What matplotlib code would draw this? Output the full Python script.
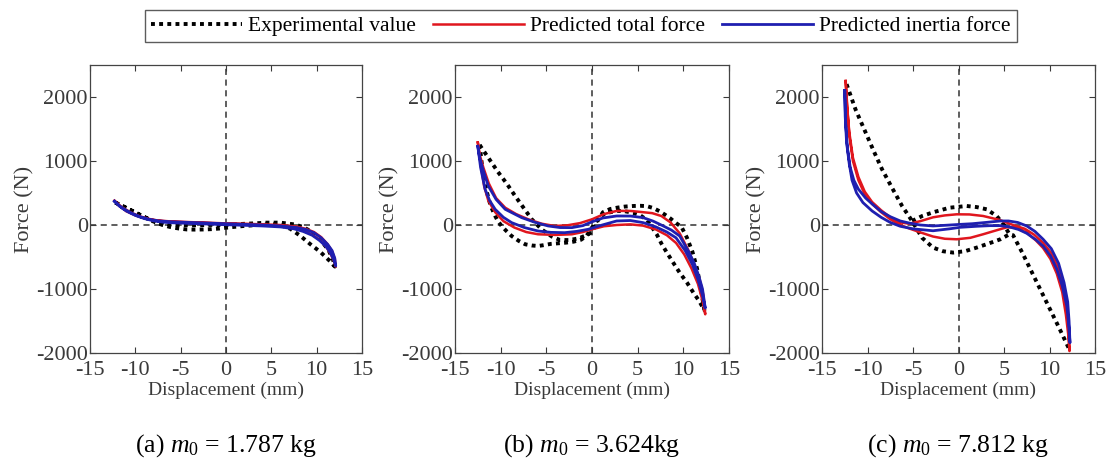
import matplotlib
matplotlib.use("Agg")
import matplotlib.pyplot as plt
import numpy as np

plt.rcParams['font.family'] = ['Liberation Serif', 'DejaVu Serif']
plt.rcParams['mathtext.fontset'] = 'custom'
plt.rcParams['mathtext.rm'] = 'Liberation Serif'
plt.rcParams['mathtext.it'] = 'Liberation Serif:italic'

# ---------------- data (displacement mm, force N) ----------------
xticks = [-15, -10, -5, 0, 5, 10, 15]
yticks = [-2000, -1000, 0, 1000, 2000]
captions = [r"(a) $m_0$ = 1.787 kg", r"(b) $m_0$ = 3.624kg", r"(c) $m_0$ = 7.812 kg"]
legend_labels = ["Experimental value", "Predicted total force", "Predicted inertia force"]

# panel (a)
a_exp_x = [-12.2, -11.3, -10.2, -9.1, -8.0, -7.0, -6.2, -5.2, -4.3, -3.4, -2.5, -1.6, -0.7, 0.5, 2.0, 3.5, 5.0, 6.0,
           7.1, 8.2, 9.3, 10.4, 11.5, 12.0,
           11.8, 11.3, 10.4, 9.5, 8.5, 7.5, 6.0, 4.5, 3.0, 1.5, 0.0, -2.0, -4.0, -6.0, -7.5, -8.5, -9.5, -10.5,
           -11.5, -12.2]
a_exp_f = [350, 290, 210, 130, 55, 0, -30, -55, -70, -72, -70, -65, -55, -35, -15, 0, 10, 0,
           -60, -170, -300, -420, -570, -650,
           -540, -390, -230, -110, -30, 10, 37, 37, 25, 15, 5, 0, -5, 10, 40, 90, 160, 230,
           300, 350]
a_tot_x = [-12.3, -11.8, -11.0, -10.0, -9.0, -8.0, -7.0, -6.0, -4.0, -2.0, 0.0, 2.0, 4.0, 6.0, 7.5, 8.5, 9.5,
           10.3, 11.0, 11.5, 11.9, 12.1,
           12.0, 11.7, 11.2, 10.5, 9.7, 8.8, 7.8, 6.0, 4.0, 2.0, 0.0, -2.0, -4.0, -6.0, -7.5, -8.5, -9.5,
           -10.5, -11.5, -12.3]
a_tot_f = [380, 300, 215, 150, 105, 75, 60, 50, 40, 30, 20, 10, 0, -15, -45, -90, -150,
           -230, -330, -440, -560, -650,
           -530, -410, -300, -190, -110, -60, -25, 0, 10, 20, 25, 35, 45, 55, 70, 95, 135,
           195, 280, 380]
a_ine_x = [-12.3, -11.8, -11.0, -10.0, -9.0, -8.0, -7.0, -6.0, -4.0, -2.0, 0.0, 2.0, 4.0, 6.0, 7.5, 8.5, 9.5,
           10.3, 11.0, 11.5, 11.9, 12.1,
           12.0, 11.7, 11.2, 10.5, 9.7, 8.8, 7.8, 6.0, 4.0, 2.0, 0.0, -2.0, -4.0, -6.0, -7.5, -8.5, -9.5,
           -10.5, -11.5, -12.3]
a_ine_f = [370, 300, 220, 150, 100, 65, 45, 35, 25, 15, 5, -5, -15, -30, -60, -100, -160,
           -240, -330, -430, -550, -640,
           -520, -400, -300, -200, -120, -70, -40, -15, 0, 10, 20, 30, 40, 50, 65, 90, 130,
           190, 270, 370]

# panel (b)
b_exp_x = [-12.3, -11.3, -10.3, -9.3, -8.4, -7.5, -6.6, -5.5, -4.4, -3.5, -2.5, -1.5, -0.6, 0.0, 0.6, 1.2, 2.0,
           2.8, 3.6, 4.5, 5.3, 6.0, 6.7, 7.4, 8.0, 8.6, 9.2, 9.8, 10.4, 11.0, 11.5, 11.9, 12.3,
           11.7, 11.1, 10.4, 9.6, 8.9, 8.2, 7.6, 7.1, 6.5, 6.0, 5.3, 4.5, 3.6, 2.8, 2.0, 1.2, 0.6, 0.0, -0.6,
           -1.2, -2.0, -2.8, -3.6, -4.5, -5.3, -5.9, -6.6, -7.3, -8.0, -8.8, -9.4, -9.9, -10.3, -10.6, -11.1,
           -11.6, -12.0, -12.3]
b_exp_f = [1250, 1040, 830, 640, 450, 270, 90, -70, -180, -235, -235, -210, -160, -110, 60, 200, 250,
           272, 288, 297, 300, 295, 265, 215, 160, 100, 30, -30, -200, -420, -680, -980, -1330,
           -1180, -1057, -900, -745, -590, -432, -290, -150, -20, 80, 150, 190, 215, 220, 200, 160, 80, -40, -170,
           -230, -260, -275, -285, -295, -315, -328, -320, -302, -250, -172, -90, -15, 60, 141, 300,
           560, 880, 1250]
b_tot_x = [-12.5, -12.2, -11.8, -11.35, -10.6, -9.7, -8.5, -7.2, -5.9, -4.0, -2.2, -1.0, 0.0, 1.3, 2.7, 4.2,
           5.6, 7.0, 8.2, 9.2, 10.1, 10.9, 11.6, 12.1, 12.4,
           12.2, 11.8, 11.2, 10.5, 9.6, 8.6, 7.6, 6.6, 5.6, 4.2, 2.7, 1.3, 0.0, -1.3, -2.7, -4.1, -5.5, -7.0,
           -8.3, -9.5, -10.5, -11.3, -11.9, -12.3, -12.5]
b_tot_f = [1290, 950, 600, 380, 200, 60, -40, -110, -145, -155, -145, -110, -67, -20, 0, 10,
           -10, -70, -160, -280, -460, -680, -920, -1180, -1395,
           -1100, -860, -620, -380, -130, 40, 140, 185, 200, 220, 220, 170, 89, 30, -5, -15, 20, 90,
           170, 270, 420, 650, 900, 1100, 1290]
b_ine_x = [-12.5, -12.2, -11.7, -11.2, -10.6, -9.7, -8.8, -7.4, -5.9, -4.5, -3.0, -1.7, -0.4, 1.0, 2.7, 4.2,
           5.6, 7.0, 8.2, 9.2, 10.2, 11.0, 11.6, 12.1, 12.4,
           12.1, 11.7, 11.2, 10.6, 9.6, 8.7, 7.8, 6.7, 5.6, 4.2, 2.7, 1.2, 0.0, -1.0, -2.2, -3.5, -4.8, -6.2,
           -7.7, -8.6, -9.5, -10.5, -11.35, -11.9, -12.3, -12.5]
b_ine_f = [1230, 900, 557, 380, 245, 120, 37, -40, -94, -115, -120, -100, -67, -5, 63, 70,
           37, -30, -110, -200, -400, -620, -850, -1100, -1300,
           -1000, -800, -600, -420, -172, -80, -15, 60, 115, 140, 141, 110, 50, -10, -41, -40, -15, 40,
           115, 180, 245, 400, 609, 850, 1050, 1230]

# panel (c)
c_exp_x = [-12.3, -11.3, -10.2, -9.3, -8.4, -7.3, -6.2, -5.1, -4.0, -2.8, -1.7, -0.6, 0.7, 2.0, 3.3, 4.6,
           5.6, 6.0, 7.0, 8.0, 9.0, 10.0, 11.0, 12.1]
c_exp_f = [2200, 1800, 1443, 1150, 870, 580, 297, 63, -200, -353, -410, -431, -410, -353, -290, -223,
           -145, -160, -430, -720, -1010, -1300, -1590, -1920]
c_exp2_x = [-5.1, -4.0, -2.8, -1.0, 0.9, 2.0, 3.1, 4.2, 5.0, 5.6]
c_exp2_f = [63, 140, 198, 270, 297, 280, 245, 140, 0, -145]
c_tot_x = [-12.4, -12.2, -12.0, -11.6, -11.0, -10.3, -9.5, -8.5, -7.5, -6.4, -5.3, -4.2, -2.8, -1.5, -0.2,
           1.3, 2.7, 4.0, 5.3, 6.3, 7.5, 8.5, 9.3, 10.1, 10.8, 11.4, 11.8, 12.05, 12.2,
           12.1, 11.9, 11.5, 10.9, 10.2, 9.3, 8.3, 7.3, 6.0, 4.5, 2.7, 1.2, -0.2, -1.5, -2.8, -4.2, -5.4,
           -6.4, -7.5, -8.5, -9.5, -10.3, -11.0, -11.6, -12.0, -12.25, -12.4]
c_tot_f = [2250, 1800, 1400, 1000, 700, 480, 330, 200, 90, 0, -60, -115, -180, -215, -223,
           -200, -145, -90, -36, -40, -120, -240, -360, -530, -760, -1050, -1400, -1700, -1970,
           -1600, -1250, -950, -650, -440, -280, -150, -60, 0, 80, 141, 165, 167, 150, 120, 60, 20,
           40, 120, 230, 360, 520, 750, 1050, 1450, 1850, 2250]
c_ine_x = [-12.5, -12.45, -12.3, -12.0, -11.7, -11.2, -10.5, -9.5, -8.5, -7.5, -6.4, -5.0, -2.8, -1.0, 0.2,
           2.0, 3.5, 4.6, 5.6, 6.6, 7.5, 8.5, 9.3, 10.1, 10.8, 11.4, 11.9, 12.1, 12.25,
           12.15, 12.0, 11.6, 11.0, 10.2, 9.3, 8.4, 7.5, 6.5, 5.5, 4.6, 3.0, 1.5, 0.2, -1.5, -2.8, -4.2,
           -5.4, -6.4, -7.5, -8.5, -9.5, -10.2, -11.0, -11.5, -11.9, -12.2, -12.4, -12.5]
c_ine_f = [2100, 1700, 1290, 950, 700, 500, 350, 220, 120, 40, -20, -60, -90, -60, -36,
           -20, -10, -10, -30, -70, -130, -230, -330, -480, -690, -950, -1266, -1550, -1840,
           -1500, -1200, -900, -600, -370, -223, -100, -15, 40, 63, 63, 40, 20, 10, -5, -15, 0,
           30, 63, 130, 210, 330, 420, 560, 700, 900, 1200, 1600, 2100]

panels = [
    ([(a_exp_x, a_exp_f)], (a_tot_x, a_tot_f), (a_ine_x, a_ine_f)),
    ([(b_exp_x, b_exp_f)], (b_tot_x, b_tot_f), (b_ine_x, b_ine_f)),
    ([(c_exp_x, c_exp_f), (c_exp2_x, c_exp2_f)], (c_tot_x, c_tot_f), (c_ine_x, c_ine_f)),
]

RED = '#e0161e'
BLUE = '#1f1fb0'
GREY = '#3a3a3a'

W, H = 1107, 466
fig = plt.figure(figsize=(W / 100, H / 100), dpi=100)
boxes = [(90, 272), (455, 274), (822, 273)]
top_px, bot_px = 65, 353
handles = None
for i, ((lx, wd), (exps, tot, ine)) in enumerate(zip(boxes, panels)):
    ax = fig.add_axes([lx / W, (H - bot_px) / H, wd / W, (bot_px - top_px) / H])
    ax.axhline(0, color='#333333', lw=1.1, ls=(0, (4, 3)), zorder=1)
    ax.axvline(0, color='#333333', lw=1.1, ls=(0, (4, 3)), zorder=1)
    for ex, ef in exps:
        he, = ax.plot(ex, ef, color='black', lw=2.8, ls=(0, (1, 1.1)), zorder=2)
    hr, = ax.plot(tot[0], tot[1], color=RED, lw=1.8, zorder=3)
    hb, = ax.plot(ine[0], ine[1], color=BLUE, lw=2.0, zorder=4)
    handles = [he, hr, hb]
    ax.set_xlim(-15, 15)
    ax.set_ylim(-2000, 2500)
    ax.set_xticks(xticks)
    ax.set_yticks(yticks)
    ax.set_xticklabels([str(t) for t in xticks])
    ax.set_yticklabels([str(t) for t in yticks])
    ax.tick_params(direction='in', top=True, right=True, length=4, width=0.8,
                   labelsize=16, colors=GREY)
    ax.tick_params(axis='x', pad=6)
    ax.tick_params(axis='y', pad=1.5)
    for s in ax.spines.values():
        s.set_color('#444444')
        s.set_linewidth(0.9)
    ax.set_xlabel('Displacement (mm)', fontsize=14, color=GREY, labelpad=1)
    ax.set_ylabel('Force (N)', fontsize=16, color=GREY, labelpad=1)
    fig.text((lx + wd / 2) / W, 1 - 446 / H, captions[i], ha='center', va='center',
             fontsize=18.5, color='black')

leg = fig.legend(handles, legend_labels, loc='center', bbox_to_anchor=(581 / W, 1 - 26 / H),
                 ncol=3, fontsize=15.5, frameon=True, fancybox=False, handlelength=4.2,
                 handletextpad=0.3, columnspacing=0.8, borderpad=0.3)
leg.get_frame().set_edgecolor('#333333')
leg.get_frame().set_linewidth(1.0)

fig.savefig('out.png', dpi=100)
